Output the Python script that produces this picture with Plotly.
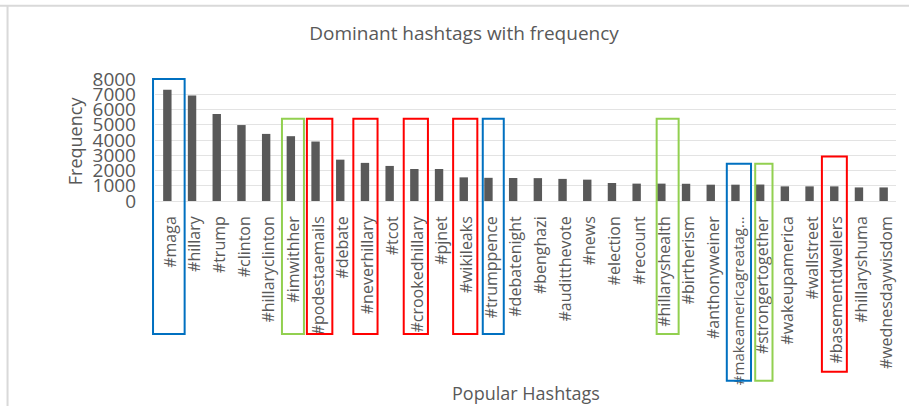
import plotly.graph_objects as go

hashtags = ["#maga", "#hillary", "#trump", "#clinton", "#hillaryclinton", "#imwithher",
            "#podestaemails", "#debate", "#neverhillary", "#tcot", "#crookedhillary", "#pjnet",
            "#wikileaks", "#trumppence", "#debatenight", "#benghazi", "#auditthevote", "#news",
            "#election", "#recount", "#hillaryshealth", "#birtherism", "#anthonyweiner",
            "#makeamericagreatag...", "#strongertogether", "#wakeupamerica", "#wallstreet",
            "#basementdwellers", "#hillaryshuma", "#wednesdaywisdom"]
frequency = [7300, 6920, 5700, 4980, 4400, 4250,
             3900, 2710, 2500, 2300, 2100, 2100,
             1550, 1520, 1510, 1500, 1450, 1400,
             1180, 1140, 1140, 1130, 1070,
             1070, 1080, 960, 960,
             960, 890, 890]
y_ticks = [0, 1000, 2000, 3000, 4000, 5000, 6000, 7000, 8000]

# highlight boxes: (hashtag, colour, left offset, right offset, top value, bottom value)
highlights = [
    ("#maga", "#0070C0", -0.58, 0.70, 8000, -8720),
    ("#imwithher", "#92D050", -0.36, 0.53, 5400, -8720),
    ("#podestaemails", "#FF0000", -0.35, 0.68, 5400, -8720),
    ("#neverhillary", "#FF0000", -0.47, 0.51, 5400, -8720),
    ("#crookedhillary", "#FF0000", -0.43, 0.55, 5400, -8720),
    ("#wikileaks", "#FF0000", -0.43, 0.55, 5400, -8720),
    ("#trumppence", "#0070C0", -0.23, 0.62, 5400, -8720),
    ("#hillaryshealth", "#92D050", -0.19, 0.70, 5400, -8720),
    ("#makeamericagreatag...", "#0070C0", -0.35, 0.63, 2450, -11780),
    ("#strongertogether", "#92D050", -0.20, 0.50, 2450, -11780),
    ("#basementdwellers", "#FF0000", -0.50, 0.51, 2920, -11190),
]

GRAY = "#595959"
FONT = "Open Sans"
X_RANGE = [-0.5, len(hashtags) - 0.5]
Y_RANGE = [0, 8000]


def xp(v):
    return (v - X_RANGE[0]) / (X_RANGE[1] - X_RANGE[0])


def yp(v):
    return (v - Y_RANGE[0]) / (Y_RANGE[1] - Y_RANGE[0])


# long labels are set slightly smaller so they stay inside their highlight box
tick_text = [f'<span style="font-size:15px">{t}</span>' if len(t) > 18 else t for t in hashtags]

fig = go.Figure()
fig.add_trace(go.Bar(x=list(range(len(hashtags))), y=frequency, marker_color=GRAY,
                     marker_line_width=0, width=0.34))

shapes = []
for tag, col, lo, hi, top, bot in highlights:
    i = hashtags.index(tag)
    shapes.append(dict(type="rect", xref="paper", yref="paper", x0=xp(i + lo), x1=xp(i + hi),
                       y0=yp(bot), y1=yp(top),
                       line=dict(color=col, width=2), fillcolor="rgba(0,0,0,0)", layer="above"))
# outer chart frame (top and left edges)
shapes.append(dict(type="line", xref="paper", yref="paper", x0=-0.21, x1=1.02, y0=1.60, y1=1.60,
                   line=dict(color="#d9d9d9", width=2)))
shapes.append(dict(type="line", xref="paper", yref="paper", x0=-0.199, x1=-0.199, y0=1.60, y1=-1.7,
                   line=dict(color="#d9d9d9", width=2)))

fig.update_layout(
    width=909, height=406,
    margin=dict(l=155, r=13, t=79, b=205),
    paper_bgcolor="white", plot_bgcolor="white",
    showlegend=False,
    font=dict(family=FONT, color=GRAY),
    title=dict(text="Dominant hashtags with frequency", x=464 / 909, xref="container", xanchor="center",
               y=1 - 33 / 406, yref="container", yanchor="middle",
               font=dict(family=FONT, size=19, color=GRAY)),
    xaxis=dict(tickmode="array", tickvals=list(range(len(hashtags))), ticktext=tick_text,
               tickangle=-90, tickfont=dict(family=FONT, size=16, color=GRAY),
               range=X_RANGE, showgrid=False, showline=False, zeroline=False,
               ticks="", ticklabelstandoff=11, ticklabelshift=3, automargin=False),
    yaxis=dict(range=Y_RANGE, tickmode="array", tickvals=y_ticks,
               tickfont=dict(family=FONT, size=19, color=GRAY),
               showgrid=True, gridcolor="#e3e3e3", gridwidth=1, zeroline=True,
               zerolinecolor="#e3e3e3", zerolinewidth=1, showline=False, ticks="",
               ticklabelstandoff=18, automargin=False),
    shapes=shapes,
    annotations=[
        dict(text="Frequency", xref="paper", yref="paper", x=(74 - 154.6) / 741.8, y=(201.3 - 141) / 122,
             showarrow=False, textangle=-90, xanchor="center", yanchor="middle",
             font=dict(family=FONT, size=18, color=GRAY)),
        dict(text="Popular Hashtags", xref="paper", yref="paper", x=0.5, y=(201.3 - 393) / 122,
             showarrow=False, xanchor="center", yanchor="middle",
             font=dict(family=FONT, size=18, color=GRAY)),
    ],
)

fig.write_html("out.html", config={"displayModeBar": False},
               post_script="document.body.style.margin='0';")
